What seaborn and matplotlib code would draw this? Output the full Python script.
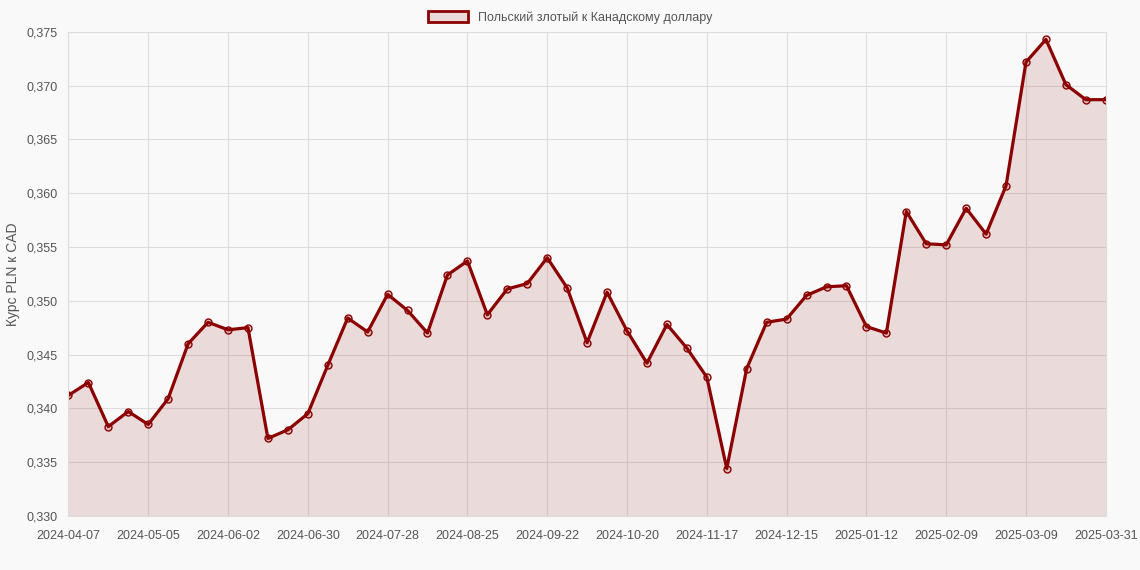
import matplotlib
matplotlib.use("Agg")
import matplotlib.pyplot as plt
import seaborn as sns
import pandas as pd
import numpy as np
from matplotlib.patches import Patch

values = [0.3412,0.3424,0.3383,0.3397,0.3385,0.3409,0.3460,0.3480,0.3473,0.3475,
          0.3372,0.3380,0.3395,0.3440,0.3484,0.3471,0.3506,0.3491,0.3470,0.3524,
          0.3537,0.3487,0.3511,0.3516,0.3540,0.3512,0.3461,0.3508,0.3472,0.3442,
          0.3478,0.3456,0.3429,0.3344,0.3437,0.3480,0.3483,0.3505,0.3513,0.3514,
          0.3476,0.3470,0.3583,0.3553,0.3552,0.3586,0.3562,0.3607,0.3722,0.3743,
          0.3701,0.3687,0.3687]
tick_labels = ["2024-04-07","2024-05-05","2024-06-02","2024-06-30","2024-07-28","2024-08-25",
               "2024-09-22","2024-10-20","2024-11-17","2024-12-15","2025-01-12","2025-02-09",
               "2025-03-09","2025-03-31"]
label = "Польский злотый к Канадскому доллару"

df = pd.DataFrame({"i": np.arange(len(values)), "v": values})
sns.set_style("whitegrid")
plt.rcParams['font.family'] = ['Liberation Sans', 'DejaVu Sans']
fig, ax = plt.subplots(figsize=(11.4, 5.7), dpi=100)
fig.patch.set_facecolor("#f9f9f9")
ax.set_facecolor("#f9f9f9")
ax.fill_between(df["i"], values, 0.330, color="#8b0000", alpha=0.12, lw=0)
sns.lineplot(data=df, x="i", y="v", ax=ax, color="#8b0000", lw=2.3, marker="o",
             markersize=5, markerfacecolor=(0.55, 0, 0, 0.15), markeredgecolor="#8b0000", markeredgewidth=1.0)
ax.set_xlim(0, len(values) - 1)
ax.set_ylim(0.330, 0.375)
ticks = list(range(0, 49, 4)) + [len(values) - 1]
ax.set_xticks(ticks)
ax.set_xticklabels(tick_labels, fontsize=9, color="#555")
yt = np.arange(0.330, 0.3751, 0.005)
ax.set_yticks(yt)
ax.set_yticklabels([f"{t:.3f}".replace(".", ",") for t in yt], fontsize=9, color="#555")
ax.set_xlabel("")
ax.set_ylabel("Курс PLN к CAD", fontsize=10, color="#555")
ax.grid(color="#dddddd", lw=0.8)
for s in ax.spines.values():
    s.set_color("#dddddd")
ax.tick_params(length=0)
ax.tick_params(axis="x", pad=10)
ax.tick_params(axis="y", pad=8)
leg = fig.legend(handles=[Patch(facecolor=(0.55, 0, 0, 0.12), edgecolor="#8b0000", lw=2, label=label)],
                 loc="upper center", bbox_to_anchor=(0.5, 1.0), frameon=False, fontsize=9,
                 handlelength=3.2, handleheight=1.0)
for t in leg.get_texts():
    t.set_color("#555")
plt.subplots_adjust(left=0.06, right=0.97, top=0.944, bottom=0.095)
fig.savefig("out.png", dpi=100, facecolor=fig.get_facecolor())
